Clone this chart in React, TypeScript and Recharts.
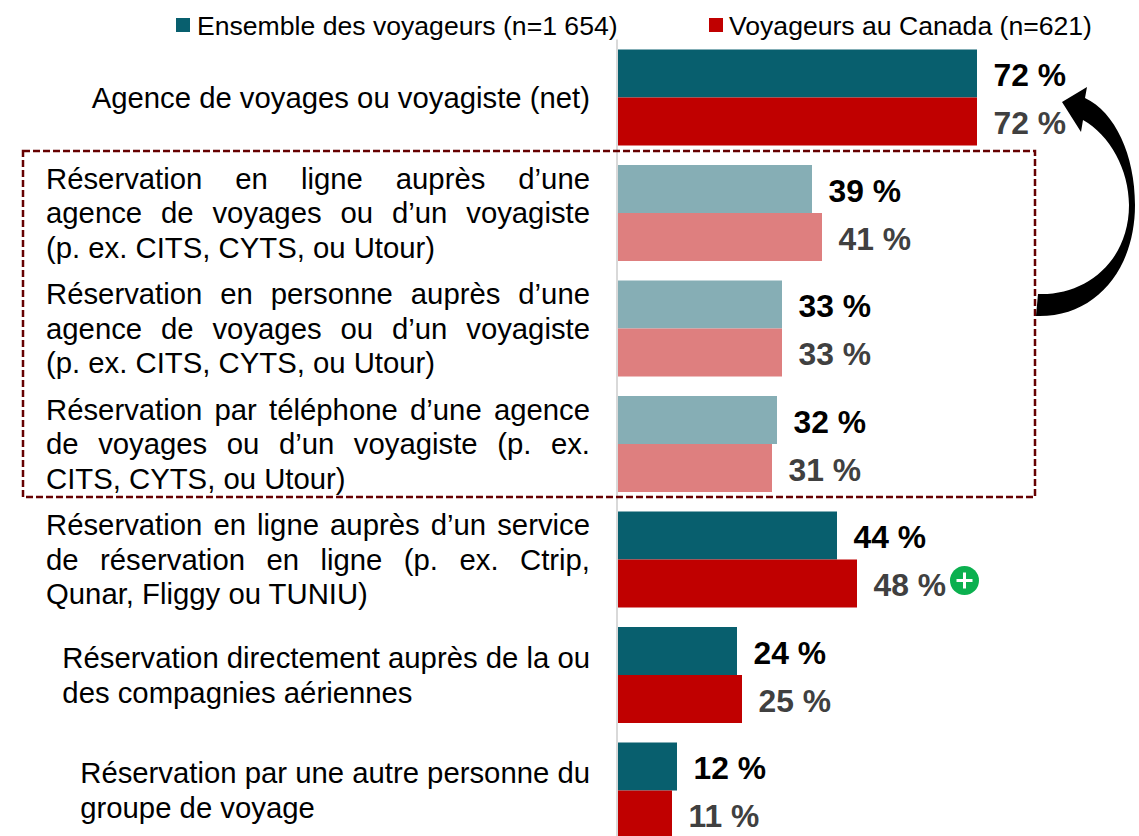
import { BarChart, Bar, XAxis, YAxis, Cell, LabelList, Legend } from "recharts";

const categoryLines = [
  ["Agence de voyages ou voyagiste (net)"],
  ["Réservation en ligne auprès d’une", "agence de voyages ou d’un voyagiste", "(p. ex. CITS, CYTS, ou Utour)"],
  ["Réservation en personne auprès d’une", "agence de voyages ou d’un voyagiste", "(p. ex. CITS, CYTS, ou Utour)"],
  ["Réservation par téléphone d’une agence", "de voyages ou d’un voyagiste (p. ex.", "CITS, CYTS, ou Utour)"],
  ["Réservation en ligne auprès d’un service", "de réservation en ligne (p. ex. Ctrip,", "Qunar, Fliggy ou TUNIU)"],
  ["Réservation directement auprès de la ou", "des compagnies aériennes"],
  ["Réservation par une autre personne du", "groupe de voyage"],
];
const allTravellers = [72, 39, 33, 32, 44, 24, 12];
const canadaTravellers = [72, 41, 33, 31, 48, 25, 11];
const mutedRows = [1, 2, 3];
const significantCanada = [4];

const seriesNames = ["Ensemble des voyageurs (n=1 654)", "Voyageurs au Canada (n=621)"];
const TEAL = "#085f6e";
const TEAL_LIGHT = "#86aeb5";
const RED = "#c00000";
const RED_LIGHT = "#de7f7f";

const data = categoryLines.map((lines, i) => ({
  name: lines.join(" "),
  all: allTravellers[i],
  canada: canadaTravellers[i],
}));

const FONT = '"Liberation Sans", Arial, sans-serif';
const TICK_SIZE = 29.3;
const RIGHT_EDGE = 590;
const BLOCK_WIDTH = 544;
const LINE_HEIGHT = 34.7;

const ctx = document.createElement("canvas").getContext("2d")!;
function textWidth(s: string) {
  ctx.font = `${TICK_SIZE}px ${FONT}`;
  return ctx.measureText(s).width;
}

// justified labels like the original slide: all lines but the last fill the block
function CategoryTick({ y, index }: any) {
  const lines = categoryLines[index];
  const natural = Math.max(...lines.map(textWidth));
  const block = lines.length > 2 ? BLOCK_WIDTH : natural;
  const left = RIGHT_EDGE - block;
  const top = y - ((lines.length - 1) * LINE_HEIGHT) / 2;
  return (
    <text fontFamily={FONT} fontSize={TICK_SIZE} fill="#000">
      {lines.map((line, i) => {
        const gaps = line.split(" ").length - 1;
        const extra = i < lines.length - 1 && gaps > 0 ? (block - textWidth(line)) / gaps : 0;
        return (
          <tspan key={i} x={left} y={top + i * LINE_HEIGHT + 10.4} wordSpacing={extra}>
            {line}
          </tspan>
        );
      })}
    </text>
  );
}

function ValueLabel({ x, y, width, height, value, index, color, flagged }: any) {
  const tx = x + width + 16.5;
  const cy = y + height / 2;
  return (
    <g>
      <text x={tx} y={cy + 12.6} fontFamily={FONT} fontWeight="bold" fontSize={31.8} fill={color}>
        {`${value} %`}
      </text>
      {flagged?.includes(index) && (
        <g>
          <circle cx={tx + 91} cy={cy - 3} r={14.5} fill="#0bb04f" />
          <path d={`M${tx + 83} ${cy - 3}h16M${tx + 91} ${cy - 11}v16`} stroke="#fff" strokeWidth={3} />
        </g>
      )}
    </g>
  );
}

function TopLegend() {
  const items = [
    { name: seriesNames[0], color: TEAL, sx: 176, tx: 197 },
    { name: seriesNames[1], color: RED, sx: 709, tx: 729 },
  ];
  return (
    <div style={{ height: 0, position: "relative" }}>
      {items.map((it) => (
        <div key={it.name}>
          <div style={{ position: "absolute", left: it.sx, top: 18, width: 14, height: 14, background: it.color }} />
          <div
            style={{
              position: "absolute",
              left: it.tx,
              top: 10,
              fontFamily: FONT,
              fontSize: 26.6,
              lineHeight: "32px",
              whiteSpace: "nowrap",
              color: "#000",
            }}
          >
            {it.name}
          </div>
        </div>
      ))}
    </div>
  );
}

export default function App() {
  return (
    <div style={{ position: "absolute", left: 0, top: 0, width: 1139, height: 836, overflow: "hidden", background: "#fff" }}>
      <BarChart
        width={1139}
        height={848}
        data={data}
        layout="vertical"
        margin={{ top: 39.6, right: 22, left: 0, bottom: 0 }}
        barGap={0}
        barSize={48}
      >
        <XAxis type="number" domain={[0, 100]} hide />
        <YAxis
          type="category"
          dataKey="name"
          width={617}
          interval={0}
          tickLine={false}
          axisLine={{ stroke: "#d9d9d9", strokeWidth: 2 }}
          tick={<CategoryTick />}
        />
        <Legend content={<TopLegend />} wrapperStyle={{ left: 0, top: 0, width: 1139, height: 0 }} />
        <Bar dataKey="all" name={seriesNames[0]} fill={TEAL} isAnimationActive={false}>
          {data.map((_, i) => (
            <Cell key={i} fill={mutedRows.includes(i) ? TEAL_LIGHT : TEAL} />
          ))}
          <LabelList dataKey="all" content={<ValueLabel color="#000" />} />
        </Bar>
        <Bar dataKey="canada" name={seriesNames[1]} fill={RED} isAnimationActive={false}>
          {data.map((_, i) => (
            <Cell key={i} fill={mutedRows.includes(i) ? RED_LIGHT : RED} />
          ))}
          <LabelList dataKey="canada" content={<ValueLabel color="#404040" flagged={significantCanada} />} />
        </Bar>
      </BarChart>
      <svg width={1139} height={836} style={{ position: "absolute", left: 0, top: 0, pointerEvents: "none" }}>
        <rect x={23} y={151} width={1012} height={346} fill="none" stroke="#660000" strokeWidth={2.5} strokeDasharray="7 3" />
        <path
          d="M1062 102 L1087 87 L1085 98 C1115 112 1135 155 1135 205 C1135 270 1095 318 1036 316 L1038 294 C1085 296 1129 262 1129 205 C1129 170 1110 135 1083 120 L1081 132 Z"
          fill="#000"
        />
      </svg>
    </div>
  );
}
